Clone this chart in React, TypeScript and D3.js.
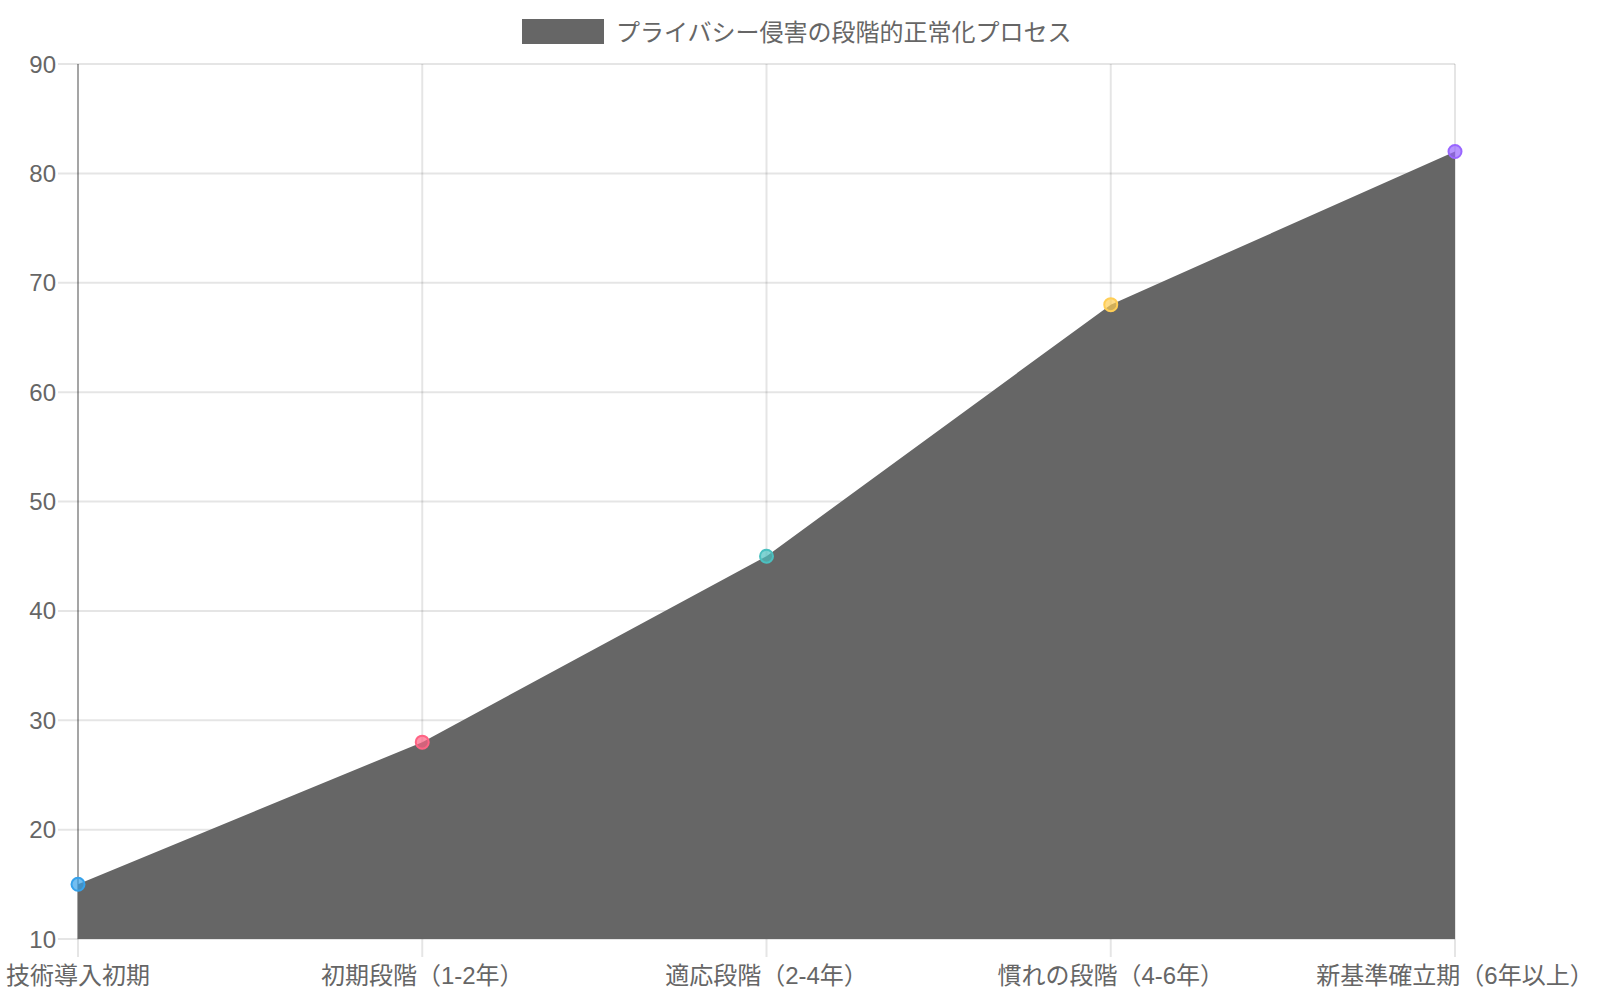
import React, { useEffect, useRef } from "react";
import * as d3 from "d3";

const stages = [
  "技術導入初期",
  "初期段階（1-2年）",
  "適応段階（2-4年）",
  "慣れの段階（4-6年）",
  "新基準確立期（6年以上）",
];
const normalization = [15, 28, 45, 68, 82];
const pointColors = ["54,162,235", "255,99,132", "75,192,192", "255,206,86", "153,102,255"];
const yTicks = [10, 20, 30, 40, 50, 60, 70, 80, 90];
const seriesLabel = "プライバシー侵害の段階的正常化プロセス";

const FONT = "'Liberation Sans', Arial, 'Noto Sans CJK JP', sans-serif";

const App: React.FC = () => {
  const svgRef = useRef<SVGSVGElement>(null);

  useEffect(() => {
    if (!svgRef.current) return;
    const width = 1600;
    const height = 1000;
    const left = 78;
    const right = 1455;
    const top = 64;
    const bottom = 939;

    const svg = d3.select(svgRef.current);
    svg.selectAll("*").remove();
    svg.attr("width", width).attr("height", height);

    const x = d3.scalePoint<string>().domain(stages).range([left, right]).padding(0);
    const y = d3.scaleLinear().domain([10, 90]).range([bottom, top]);

    const grid = svg.append("g");

    // horizontal grid
    grid
      .selectAll("line.h")
      .data(yTicks)
      .enter()
      .append("line")
      .attr("x1", left - 20)
      .attr("x2", right)
      .attr("y1", (d) => y(d))
      .attr("y2", (d) => y(d))
      .attr("stroke", "rgba(0,0,0,0.1)")
      .attr("stroke-width", 2);

    // vertical grid
    grid
      .selectAll("line.v")
      .data(stages)
      .enter()
      .append("line")
      .attr("x1", (d) => x(d)!)
      .attr("x2", (d) => x(d)!)
      .attr("y1", top)
      .attr("y2", bottom + 18)
      .attr("stroke", "rgba(0,0,0,0.1)")
      .attr("stroke-width", 2);

    // y axis line
    grid
      .append("line")
      .attr("x1", left)
      .attr("x2", left)
      .attr("y1", top)
      .attr("y2", bottom)
      .attr("stroke", "rgba(0,0,0,0.28)")
      .attr("stroke-width", 2);

    svg
      .append("g")
      .selectAll("text")
      .data(yTicks)
      .enter()
      .append("text")
      .attr("x", left - 22)
      .attr("y", (d) => y(d))
      .attr("text-anchor", "end")
      .attr("dominant-baseline", "central")
      .attr("fill", "#666")
      .style("font-family", FONT)
      .style("font-size", "24px")
      .text((d) => d);

    svg
      .append("g")
      .selectAll("text")
      .data(stages)
      .enter()
      .append("text")
      .attr("x", (d) => x(d)!)
      .attr("y", 975)
      .attr("text-anchor", "middle")
      .attr("dominant-baseline", "central")
      .attr("fill", "#666")
      .style("font-family", FONT)
      .style("font-size", "24px")
      .text((d) => d);

    const area = d3
      .area<number>()
      .x((_, i) => x(stages[i])!)
      .y0(bottom)
      .y1((d) => y(d));

    svg.append("path").datum(normalization).attr("d", area).attr("fill", "#666");

    svg
      .append("g")
      .selectAll("circle")
      .data(normalization)
      .enter()
      .append("circle")
      .attr("cx", (_, i) => x(stages[i])!)
      .attr("cy", (d) => y(d))
      .attr("r", 6.5)
      .attr("fill", (_, i) => `rgba(${pointColors[i]},0.7)`)
      .attr("stroke", (_, i) => `rgb(${pointColors[i]})`)
      .attr("stroke-width", 2);

    // legend
    const legend = svg.append("g");
    legend
      .append("rect")
      .attr("x", 522)
      .attr("y", 19)
      .attr("width", 82)
      .attr("height", 25)
      .attr("fill", "#666");
    legend
      .append("text")
      .attr("x", 616)
      .attr("y", 32)
      .attr("dominant-baseline", "central")
      .attr("fill", "#666")
      .style("font-family", FONT)
      .style("font-size", "24px")
      .text(seriesLabel);
  }, []);

  return <svg ref={svgRef} style={{ position: "absolute", left: 0, top: 0 }}></svg>;
};

export default App;
